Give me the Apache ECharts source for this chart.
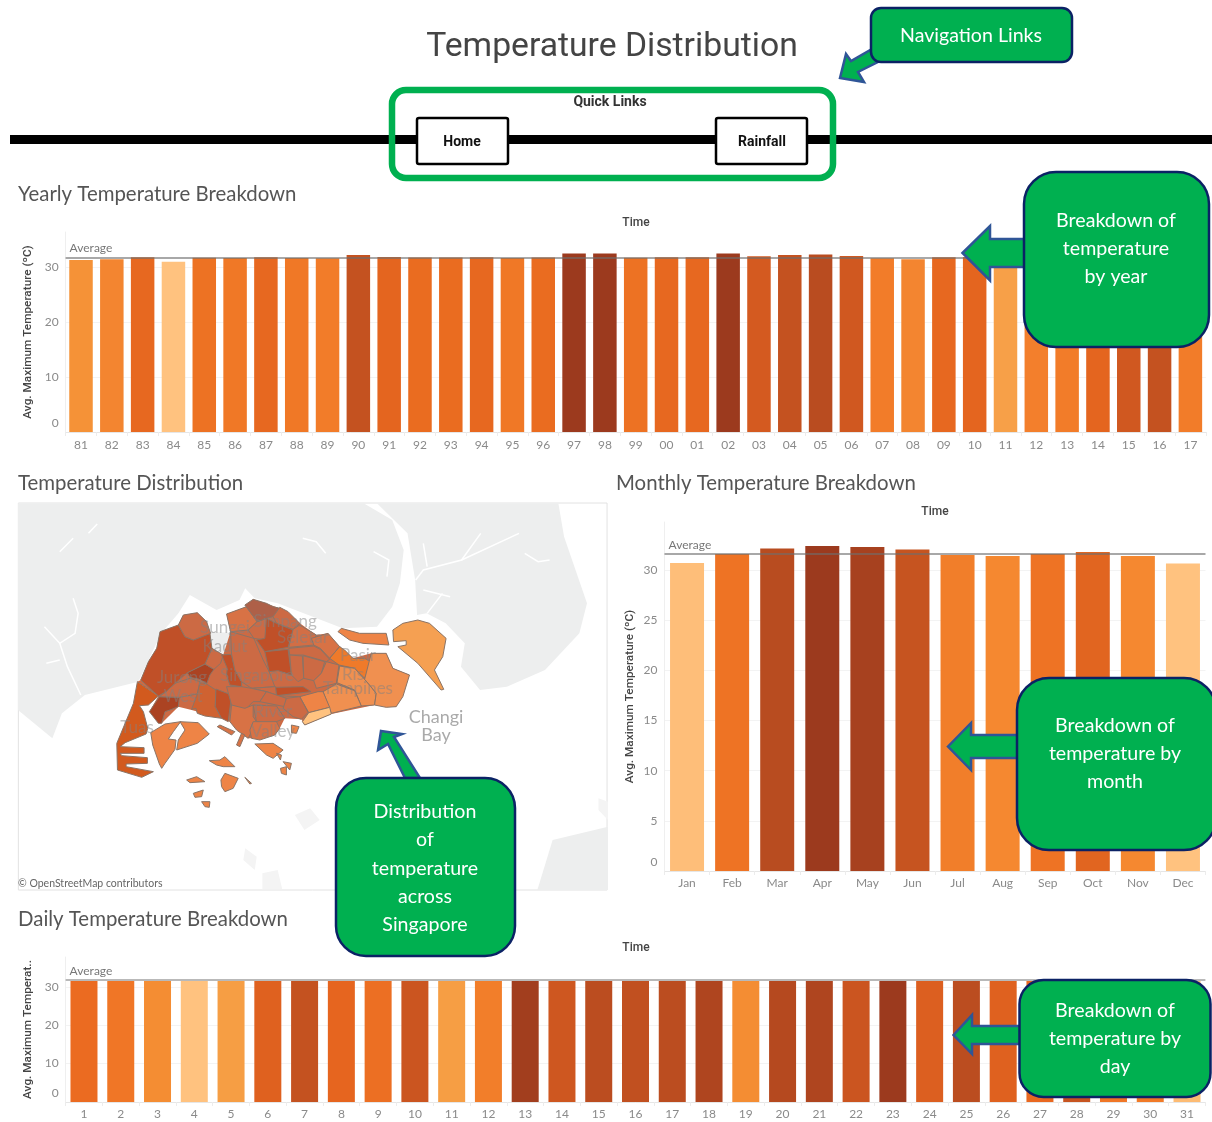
<!DOCTYPE html>
<html>
<head>
<meta charset="utf-8">
<title>Temperature Distribution</title>
<script src="https://cdn.jsdelivr.net/npm/echarts@6/dist/echarts.min.js"></script>
<style>
  html, body { margin: 0; background: #fff; }
  #main { width: 1212px; height: 1122px; }
</style>
</head>
<body>
<div id="main"></div>
<script>
// yearly chart
var yearLabels = ['81','82','83','84','85','86','87','88','89','90','91','92','93','94','95','96','97','98','99','00','01','02','03','04','05','06','07','08','09','10','11','12','13','14','15','16','17'];
var yearValues = [31.3,31.45,31.8,31.0,31.7,31.65,31.8,31.65,31.6,32.2,31.85,31.75,31.75,31.8,31.65,31.75,32.5,32.5,31.7,31.8,31.8,32.5,32.0,32.2,32.3,32.05,31.6,31.45,31.8,31.85,31.2,31.55,31.6,31.85,32.05,32.2,31.6];
var yearAverage = 31.75;

// monthly chart
var monthLabels = ['Jan','Feb','Mar','Apr','May','Jun','Jul','Aug','Sep','Oct','Nov','Dec'];
var monthValues = [30.7,31.6,32.15,32.4,32.3,32.05,31.5,31.4,31.6,31.8,31.4,30.65];
var monthAverage = 31.6;

// daily chart
var dayLabels = ['1','2','3','4','5','6','7','8','9','10','11','12','13','14','15','16','17','18','19','20','21','22','23','24','25','26','27','28','29','30','31'];
var dayValues = [31.71,31.68,31.63,31.55,31.6,31.75,31.83,31.73,31.7,31.81,31.6,31.66,31.89,31.8,31.85,31.84,31.85,31.87,31.63,31.86,31.87,31.81,31.9,31.76,31.85,31.75,31.72,31.82,31.68,31.67,31.56];
var dayAverage = 31.75;

// map chart, one value per planning area
var districtNames = ['Central Area','Tuas','Pioneer','Jurong West','Boon Lay','Jurong East','Clementi','Bukit Batok','Western Water Catchment','Lim Chu Kang','Bukit Panjang','Central Water Catchment','Woodlands','Mandai','Simpang','Sembawang','Yishun','Ang Mo Kio','Seletar','Punggol','Sengkang','Serangoon','Hougang','Paya Lebar','Pasir Ris','Tampines','Changi','Bedok','Geylang','Marine Parade','Toa Payoh','Bishan','Bukit Timah','Queenstown','Novena','Kallang','River Valley','Bukit Merah','Marina South','Pulau Ubin','Changi East','Western Islands','Southern Islands'];
var districtValues = [31.2,31.4,31.8,31.2,31.8,31.3,31.6,31.2,31.6,31.2,31.6,31.2,31.0,31.2,32.0,31.2,31.6,31.6,31.1,31.0,31.2,31.2,31.2,31.0,30.8,30.4,30.4,30.4,30.6,30.0,31.6,31.2,31.2,31.0,31.2,31.2,31.2,31.0,30.6,30.6,30.2,30.6,30.6];

var yearScale = ['#FFC27F','#FAAD5C','#F5983A','#F48A33','#F3822E','#F27B28','#EA6C20','#E3631F','#D45A20','#CB5520','#C05020','#AE451F','#9C3A1E'];
var monthScale = ['#FFC27F','#FBB060','#F79C45','#F58830','#EC6E21','#DA5F20','#B84C20','#9C3A1E'];
var dayScale = ['#FFC27F','#F5983A','#F27B28','#E8661F','#D45A20','#C05020','#9C3A1E'];
var mapScale = ['#FFC27F','#F5A052','#F09050','#EE8446','#EF7A2A','#D87245','#CC6A44','#D25A1E','#C05028','#AB4322','#AE6048'];

// district outlines (crop px, see fromCrop)
var districtShapes = {
  'Central Area': [[[82,275],[92,270],[115,215],[140,175],[150,125],[205,105],[220,75],[262,68],[290,95],[306,175],[340,195],[362,125],[350,72],[410,50],[430,28],[510,55],[570,100],[620,135],[655,130],[690,170],[730,205],[785,190],[830,190],[850,235],[900,255],[860,350],[795,345],[665,372],[585,405],[575,388],[525,385],[510,415],[495,435],[425,445],[415,445],[360,395],[335,385],[245,360],[205,350],[155,400],[118,365],[145,318]],[[312,238],[340,195],[352,235],[350,290],[318,297],[295,282]]],
  'Tuas': [[[82,275],[145,318],[115,345],[88,347],[100,365],[113,415],[108,432],[45,458],[30,470],[102,473],[102,490],[30,490],[35,497],[112,503],[112,520],[48,522],[48,530],[130,545],[95,562],[22,540],[20,460],[45,400],[70,340]]],
  'Pioneer': [[[148,320],[208,322],[205,350],[180,360],[165,365],[155,400],[145,400],[118,365]]],
  'Jurong West': [[[168,305],[195,280],[240,265],[270,275],[262,312],[208,322],[148,320]]],
  'Boon Lay': [[[232,248],[285,222],[312,238],[300,255],[290,282],[270,268],[240,262]]],
  'Jurong East': [[[270,278],[290,282],[318,300],[316,350],[335,385],[285,378],[262,370],[258,355],[245,358],[262,312]]],
  'Clementi': [[[318,297],[365,315],[355,395],[335,385],[316,350]]],
  'Bukit Batok': [[[306,175],[340,195],[332,220],[312,238],[285,222]]],
  'Western Water Catchment': [[[92,270],[115,215],[140,175],[150,125],[205,105],[225,140],[250,150],[300,130],[306,175],[285,222],[232,248],[195,280],[168,305],[145,318]]],
  'Lim Chu Kang': [[[205,105],[220,75],[262,68],[290,95],[302,130],[250,150],[225,140]]],
  'Bukit Panjang': [[[335,195],[365,193],[375,240],[395,275],[395,290],[360,285],[350,255],[352,235]]],
  'Central Water Catchment': [[[362,125],[432,145],[460,210],[478,245],[495,290],[425,295],[395,275],[375,240],[365,193]]],
  'Woodlands': [[[350,72],[410,50],[442,95],[415,120],[362,125]]],
  'Mandai': [[[415,120],[442,95],[470,85],[478,105],[465,150],[432,145]]],
  'Simpang': [[[405,45],[430,28],[470,40],[490,50],[510,55],[490,80],[470,85],[442,95]]],
  'Sembawang': [[[490,80],[510,52],[535,65],[570,100],[550,118],[500,100]]],
  'Yishun': [[[470,85],[500,100],[550,120],[535,172],[465,185],[440,150],[465,145]]],
  'Ang Mo Kio': [[[465,185],[535,178],[545,255],[505,242],[478,245]]],
  'Seletar': [[[550,118],[570,105],[620,135],[612,165],[537,172]]],
  'Punggol': [[[605,145],[655,130],[690,170],[660,205],[632,175],[612,165]]],
  'Sengkang': [[[537,175],[612,168],[632,178],[660,208],[650,215],[580,195],[540,195]]],
  'Serangoon': [[[540,195],[578,198],[582,265],[565,275],[545,255]]],
  'Hougang': [[[580,197],[645,215],[635,250],[612,272],[582,265]]],
  'Paya Lebar': [[[650,215],[688,225],[680,280],[620,295],[612,272],[635,250]]],
  'Pasir Ris': [[[690,170],[705,180],[730,205],[765,205],[785,215],[765,265],[735,235],[688,225],[660,205]]],
  'Tampines': [[[690,228],[735,235],[765,268],[780,285],[800,310],[795,345],[755,348],[735,300],[682,278]]],
  'Changi': [[[765,268],[785,190],[830,190],[850,235],[900,255],[880,320],[860,350],[830,352],[795,345],[800,310],[780,285]]],
  'Bedok': [[[680,282],[735,302],[755,348],[665,370],[640,305]]],
  'Geylang': [[[570,320],[625,305],[640,305],[660,352],[597,368]]],
  'Marine Parade': [[[597,368],[660,352],[665,372],[585,405],[578,395]]],
  'Toa Payoh': [[[497,292],[580,290],[604,305],[500,317]]],
  'Bishan': [[[425,295],[497,290],[500,317],[570,320],[565,330],[530,325],[470,305]]],
  'Bukit Timah': [[[350,290],[395,290],[425,295],[470,305],[450,335],[430,335],[405,360],[365,345]]],
  'Queenstown': [[[365,345],[405,355],[430,345],[430,380],[440,395],[415,445],[380,420],[360,395]]],
  'Novena': [[[470,305],[530,325],[525,350],[500,345],[450,335]]],
  'Kallang': [[[530,325],[570,320],[595,367],[575,388],[550,380],[520,355]]],
  'River Valley': [[[430,345],[500,348],[525,385],[500,395],[470,400],[440,395]]],
  'Bukit Merah': [[[430,395],[500,395],[510,415],[495,435],[450,450],[425,445],[420,420]],[[322,410],[330,405],[375,425],[365,435]],[[380,465],[395,430],[405,435],[390,470]]],
  'Marina South': [[[545,405],[568,410],[560,430],[545,428]]],
  'Pulau Ubin': [[[685,125],[695,115],[750,130],[830,130],[838,165],[760,160],[720,150]]],
  'Changi East': [[[850,120],[880,100],[925,90],[960,100],[1010,145],[1000,200],[975,240],[1003,298],[995,300],[925,220],[865,170],[890,165],[890,152],[852,155]]],
  'Western Islands': [[[122,428],[165,402],[212,395],[190,425],[175,447],[198,450],[195,478],[165,520],[155,535],[148,522],[128,465]],[[210,395],[265,398],[298,432],[262,460],[200,480],[205,450],[225,420]]],
  'Southern Islands': [[[435,462],[490,460],[520,480],[490,505],[470,495]],[[298,512],[330,510],[345,500],[375,530],[340,530],[320,525]],[[230,570],[260,560],[285,575],[240,578]],[[333,570],[345,550],[385,565],[370,595],[345,605],[335,590]],[[405,562],[425,580],[420,582]],[[250,610],[280,600],[275,620],[255,622]],[[275,635],[300,635],[298,652],[285,650]],[[512,535],[530,530],[530,555],[515,550]],[[500,490],[515,495],[512,510]],[[520,515],[545,520],[540,540]]]
};

// grey land behind the districts
var landShapes = {
  'Johor': [[20,10],[925,10],[1000,60],[1030,150],[1020,250],[1000,320],[960,380],[870,385],[780,345],[700,310],[640,295],[615,265],[600,300],[540,330],[470,285],[440,340],[395,400],[335,545],[195,585],[135,640],[110,715],[20,630]],
  'Riau East': [[960,10],[1435,10],[1450,110],[1510,310],[1490,400],[1400,510],[1300,560],[1230,570],[1180,500],[1190,430],[1140,370],[1090,340],[1065,345],[1060,240],[1040,100]],
  'Kranji': [[510,395],[610,400],[600,470],[530,470]],
  'Batam': [[1380,1170],[1420,1020],[1565,980],[1565,1170]]
};
var faintShapes = {
  'Islet A': [[745,945],[785,925],[810,960],[770,990]],
  'Islet B': [[615,1045],[645,1070],[640,1110],[610,1080]],
  'Islet C': [[660,1120],[700,1110],[712,1168],[660,1168]],
  'Islet D': [[1540,895],[1565,905],[1565,960],[1540,930]]
};

var waterLines = [
  [[165,295],[178,340],[170,400],[130,430],[90,380]],
  [[130,430],[150,500],[185,585]],
  [[130,480],[95,490]],
  [[1060,240],[1080,210],[1180,180],[1230,100]],
  [[1180,180],[1330,100]],
  [[1080,130],[1090,200]],
  [[1080,270],[1150,290]],
  [[1090,340],[1130,280]],
  [[765,115],[800,125],[825,160]],
  [[950,155],[990,180],[985,230]],
  [[1345,160],[1380,185],[1410,180]],
  [[130,155],[165,115]],
  [[205,100],[228,72]]
];

function fromCrop(p) { return [p[0] / 3 + 110, p[1] / 3 + 590]; }
function fromFrame(p) { return [p[0] / 2.613 + 10, p[1] / 3 + 500]; }

var features = [{
  type: 'Feature', properties: { name: 'Frame' },
  geometry: { type: 'Polygon', coordinates: [[[18,503],[608,503],[608,890],[18,890]]] }
}];
[landShapes, faintShapes].forEach(function (group) {
  Object.keys(group).forEach(function (k) {
    features.push({ type: 'Feature', properties: { name: k },
      geometry: { type: 'Polygon', coordinates: [group[k].map(fromFrame)] } });
  });
});
Object.keys(districtShapes).forEach(function (k) {
  features.push({ type: 'Feature', properties: { name: k },
    geometry: { type: 'MultiPolygon', coordinates: districtShapes[k].map(function (r) { return [r.map(fromCrop)]; }) } });
});
echarts.registerMap('singapore', { type: 'FeatureCollection', features: features });

var chart = echarts.init(document.getElementById('main'));

var NAVY = '#0B2265', GREEN = '#00B050', ARROW = '#2F5597';
var titleFont = 'Lato', labelGrey = '#8a8a8a';

// y axis shared bits
function yAxisOf(idx, max, interval, name) {
  return {
    type: 'value', gridIndex: idx, min: 0, max: max, interval: interval,
    name: name, nameLocation: 'middle', nameGap: 28,
    nameTextStyle: { fontFamily: 'Roboto', fontSize: 11.8, fontWeight: 500, color: '#444' },
    axisLine: { show: true, lineStyle: { color: '#efefef' } },
    axisTick: { show: false },
    axisLabel: {
      color: labelGrey, fontFamily: titleFont, fontSize: 12, margin: 7, showMaxLabel: false, verticalAlignMinLabel: 'bottom',
      formatter: function (v) { return v === 0 ? '{zero|0}' : String(v); },
      rich: { zero: { color: labelGrey, fontFamily: titleFont, fontSize: 12, padding: [0, 0, 3, 0] } }
    },
    splitLine: { show: true, showMaxLine: false, lineStyle: { color: '#f3f3f3' } }
  };
}
function xAxisOf(idx, labels, margin) {
  return {
    type: 'category', gridIndex: idx, data: labels,
    axisLine: { lineStyle: { color: '#e6e6e6' } },
    axisTick: { show: true, length: 4, lineStyle: { color: '#ececec' } },
    axisLabel: { color: labelGrey, fontFamily: titleFont, fontSize: 12, margin: margin, interval: 0 }
  };
}
function barsOf(idx, name, values, width, avg, avgColor) {
  return {
    type: 'bar', name: name, xAxisIndex: idx, yAxisIndex: idx, data: values, barWidth: width,
    animation: false, silent: true,
    markLine: {
      silent: true, symbol: 'none', animation: false,
      data: [{ yAxis: avg }],
      lineStyle: { color: avgColor, width: 2, type: 'solid' },
      label: { show: true, position: 'insideStartTop', distance: [4, 3], formatter: 'Average', color: '#777', fontFamily: titleFont, fontSize: 12 }
    }
  };
}
function panelTitle(text, x, y) {
  return { text: text, left: x, top: y, padding: 0, textStyle: { fontFamily: titleFont, fontWeight: 400, fontSize: 20.4, color: '#555' } };
}
function timeTitle(x, y) {
  return { text: 'Time', left: x, top: y, padding: 0, textAlign: 'center', textStyle: { fontFamily: 'Roboto', fontWeight: 500, fontSize: 12, color: '#444' } };
}

// callouts are all the same green round box
function calloutBox(x, y, w, h, r, lines, ys, cx) {
  var out = [{
    type: 'rect', z: 20, shape: { x: x, y: y, width: w, height: h, r: r },
    style: { fill: GREEN, stroke: NAVY, lineWidth: 2.5 }
  }];
  lines.forEach(function (t, i) {
    out.push({ type: 'text', z: 21, x: cx, y: ys[i],
      style: { text: t, fill: '#fff', font: '19.6px Lato', textAlign: 'center', textVerticalAlign: 'middle' } });
  });
  return out;
}
function arrowPoly(points) {
  return { type: 'polygon', z: 19, shape: { points: points }, style: { fill: GREEN, stroke: ARROW, lineWidth: 2.5, lineJoin: 'miter' } };
}
function leftArrow(tip, base, end, midY, top, bottom, s1, s2) {
  return arrowPoly([[tip, midY],[base, top],[base, s1],[end, s1],[end, s2],[base, s2],[base, bottom]]);
}
function mapLabel(t, x, y) {
  return { type: 'text', z: 10, x: x, y: y, silent: true,
    style: { text: t, fill: 'rgba(130,130,130,0.5)', font: '17px Lato', textAlign: 'center', textVerticalAlign: 'middle' } };
}

var graphics = [
  // header
  { type: 'text', x: 612, y: 48, style: { text: 'Temperature Distribution', fill: '#444', font: '33.7px Roboto', textAlign: 'center', textVerticalAlign: 'middle' } },
  { type: 'rect', z: 2, shape: { x: 10, y: 135, width: 1202, height: 9 }, style: { fill: '#000' } },
  { type: 'rect', z: 3, shape: { x: 392, y: 90, width: 441, height: 88, r: 14 }, style: { fill: 'none', stroke: GREEN, lineWidth: 6.5 } },
  { type: 'text', z: 3, x: 610, y: 102, style: { text: 'Quick Links', fill: '#333', font: 'bold 14px Roboto', textAlign: 'center', textVerticalAlign: 'middle' } },
  { type: 'rect', z: 3, shape: { x: 417, y: 118, width: 91, height: 46, r: 2 }, style: { fill: '#fff', stroke: '#000', lineWidth: 2.5 } },
  { type: 'rect', z: 3, shape: { x: 716, y: 118, width: 91, height: 46, r: 2 }, style: { fill: '#fff', stroke: '#000', lineWidth: 2.5 } },
  { type: 'text', z: 4, x: 462, y: 142, style: { text: 'Home', fill: '#111', font: 'bold 14px Roboto', textAlign: 'center', textVerticalAlign: 'middle' } },
  { type: 'text', z: 4, x: 762, y: 142, style: { text: 'Rainfall', fill: '#111', font: 'bold 14px Roboto', textAlign: 'center', textVerticalAlign: 'middle' } },
  // map text
  mapLabel('Sungei', 225, 628), mapLabel('Kadut', 225, 647), mapLabel('Simpang', 285, 622), mapLabel('Seletar', 303, 638),
  mapLabel('Pasir', 358, 656), mapLabel('Ris', 353, 675), mapLabel('Tampines', 358, 689), mapLabel('Singapore', 257, 676),
  mapLabel('Jurong', 182, 678), mapLabel('West', 183, 697), mapLabel('Tuas', 137, 728), mapLabel('River', 273, 712), mapLabel('Valley', 273, 732),
  { type: 'text', z: 10, x: 436, y: 717, style: { text: 'Changi', fill: '#aaa', font: '18px Lato', textAlign: 'center', textVerticalAlign: 'middle' } },
  { type: 'text', z: 10, x: 436, y: 735, style: { text: 'Bay', fill: '#aaa', font: '18px Lato', textAlign: 'center', textVerticalAlign: 'middle' } },
  { type: 'text', z: 10, x: 18, y: 884, style: { text: '© OpenStreetMap contributors', fill: '#666', font: '10.5px Lato', textVerticalAlign: 'middle' } },
  // arrows
  arrowPoly([[840,78],[846,54],[851,61],[872,49],[878,62],[858,72],[864,82]]),
  leftArrow(962.5, 990, 1026, 253, 226, 280.5, 239, 267),
  leftArrow(948, 971, 1018, 746.5, 723, 770, 735, 758),
  leftArrow(953.5, 972, 1020, 1035, 1015, 1054, 1026, 1044),
  arrowPoly([[381,731],[402,734],[394,737],[420,778],[405,778],[388,744],[378,750]])
];
waterLines.forEach(function (l) {
  graphics.push({ type: 'polyline', z: 5, silent: true, shape: { points: l.map(fromFrame) }, style: { stroke: '#fff', lineWidth: 1.5, fill: null } });
});
graphics = graphics
  .concat(calloutBox(871, 8, 201, 54, 10, ['Navigation Links'], [36], 971))
  .concat(calloutBox(1024, 172, 185, 175, 32, ['Breakdown of', 'temperature', 'by year'], [221, 249, 277], 1116))
  .concat(calloutBox(1017, 678, 199, 172, 32, ['Breakdown of', 'temperature by', 'month'], [726, 754, 782], 1115))
  .concat(calloutBox(1019.5, 980, 191, 117, 24, ['Breakdown of', 'temperature by', 'day'], [1011, 1039, 1067], 1115))
  .concat(calloutBox(336, 778, 179, 178, 30, ['Distribution', 'of', 'temperature', 'across', 'Singapore'], [812, 840, 869, 897, 925], 425));

var landRegions = Object.keys(landShapes).map(function (k) {
  return { name: k, itemStyle: { areaColor: '#EDEEEE', borderWidth: 0 } };
}).concat(Object.keys(faintShapes).map(function (k) {
  return { name: k, itemStyle: { areaColor: '#F4F4F4', borderWidth: 0 } };
}));
landRegions.push({ name: 'Frame', itemStyle: { areaColor: '#fff', borderColor: '#e2e2e2', borderWidth: 1 } });
landRegions.push({ name: 'Central Area', itemStyle: { borderWidth: 0 } });

var option = {
  animation: false,
  title: [
    panelTitle('Yearly Temperature Breakdown', 18, 184),
    panelTitle('Temperature Distribution', 18, 473),
    panelTitle('Monthly Temperature Breakdown', 616, 473),
    panelTitle('Daily Temperature Breakdown', 18, 909),
    timeTitle(636, 217), timeTitle(935, 506), timeTitle(636, 942)
  ],
  grid: [
    { left: 65.6, top: 232, width: 1140.2, height: 200 },
    { left: 664.5, top: 522, width: 541, height: 349 },
    { left: 65.6, top: 957, width: 1139.8, height: 145 }
  ],
  xAxis: [xAxisOf(0, yearLabels, 7), xAxisOf(1, monthLabels, 6.5), xAxisOf(2, dayLabels, 6)],
  yAxis: [
    yAxisOf(0, 36.4, 10, 'Avg. Maximum Temperature (ºC)'),
    yAxisOf(1, 34.8, 5, 'Avg. Maximum Temperature (ºC)'),
    yAxisOf(2, 37.76, 10, 'Avg. Maximum Temperat..')
  ],
  geo: {
    map: 'singapore', silent: true, roam: false,
    projection: { project: function (p) { return p; }, unproject: function (p) { return p; } },
    aspectScale: 1,
    left: 18, top: 503, width: 590, height: 387,
    label: { show: false },
    itemStyle: { areaColor: '#fff', borderColor: '#8a7466', borderWidth: 1 },
    emphasis: { disabled: true },
    regions: landRegions
  },
  visualMap: [
    { show: false, type: 'continuous', seriesIndex: 0, dimension: 1, min: 31.0, max: 32.5, inRange: { color: yearScale } },
    { show: false, type: 'continuous', seriesIndex: 1, dimension: 1, min: 30.65, max: 32.4, inRange: { color: monthScale } },
    { show: false, type: 'continuous', seriesIndex: 2, dimension: 1, min: 31.55, max: 31.9, inRange: { color: dayScale } },
    { show: false, type: 'continuous', seriesIndex: 3, min: 30, max: 32, inRange: { color: mapScale } }
  ],
  series: [
    barsOf(0, 'Year', yearValues, 23.5, yearAverage, 'rgba(110,110,110,0.6)'),
    barsOf(1, 'Month', monthValues, 34, monthAverage, 'rgba(110,110,110,0.6)'),
    barsOf(2, 'Day', dayValues, 27, dayAverage, '#b9b9b9'),
    {
      type: 'map', geoIndex: 0, silent: true,
      data: districtNames.map(function (n, i) { return { name: n, value: districtValues[i] }; })
    }
  ],
  graphic: graphics
};
chart.setOption(option);
</script>
</body>
</html>
